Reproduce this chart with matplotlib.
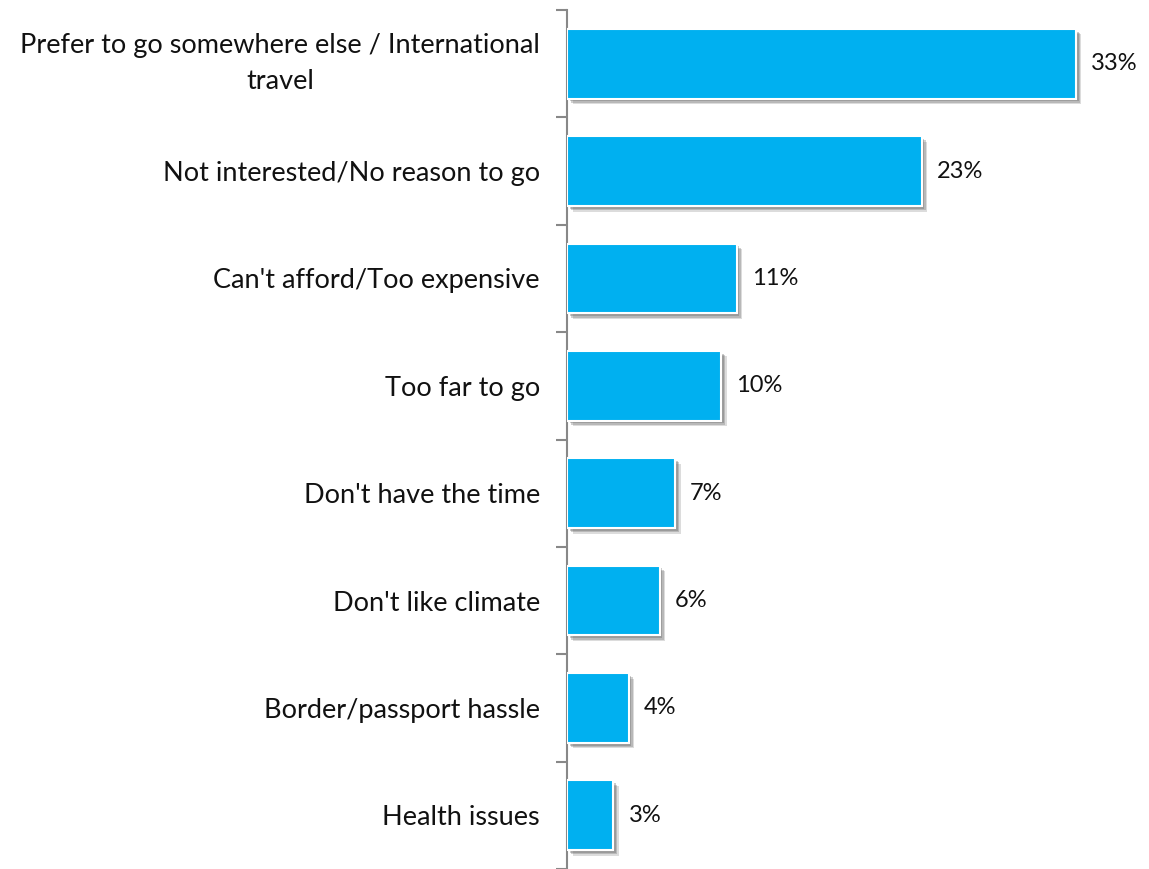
import matplotlib.pyplot as plt
import matplotlib.patheffects as pe

reasons = [
    "Prefer to go somewhere else / International\ntravel",
    "Not interested/No reason to go",
    "Can't afford/Too expensive",
    "Too far to go",
    "Don't have the time",
    "Don't like climate",
    "Border/passport hassle",
    "Health issues",
]
pct = [33, 23, 11, 10, 7, 6, 4, 3]
pct_labels = ["33%", "23%", "11%", "10%", "7%", "6%", "4%", "3%"]

plt.rcParams['font.family'] = ['Lato', 'DejaVu Sans']

fig = plt.figure(figsize=(11.49, 8.69), dpi=100)
ax = fig.add_axes([567 / 1149, 0.0, 1 - 567 / 1149, 859 / 869])

y = list(range(len(reasons)))
# soft-ish drop shadow: a few stacked offsets
shadow = [
    pe.SimplePatchShadow(offset=(4, -4), shadow_rgbFace='#777777', alpha=0.25),
    pe.SimplePatchShadow(offset=(3, -3), shadow_rgbFace='#666666', alpha=0.3),
    pe.SimplePatchShadow(offset=(2, -2), shadow_rgbFace='#555555', alpha=0.3),
    pe.Normal(),
]
bars = ax.barh(y, pct, height=0.65, color='#00B0F0', edgecolor='white', linewidth=1.5, zorder=3)
for b in bars:
    b.set_path_effects(shadow)

for yi, v, lab in zip(y, pct, pct_labels):
    ax.annotate(lab, (v, yi), xytext=(11, 0), textcoords='offset points',
                va='center', ha='left', fontsize=17, color='#111111')

ax.set_ylim(len(reasons) - 0.5, -0.5)
ax.set_xlim(0, 37.74)
ax.set_yticks(y)
ax.set_yticklabels(reasons, fontsize=19.5, color='#111111')
first = ax.get_yticklabels()[0]
first.set_multialignment('center')
first.set_linespacing(1.55)
first.set_va('center')
ax.set_yticks([i - 0.5 for i in range(len(reasons) + 1)], minor=True)
ax.tick_params(axis='y', which='major', length=0, pad=19.5)
ax.tick_params(axis='y', which='minor', length=8, width=1.5, color='#888888')
ax.set_xticks([])
for s in ['top', 'right', 'bottom']:
    ax.spines[s].set_visible(False)
ax.spines['left'].set_color('#888888')
ax.spines['left'].set_linewidth(1.5)

fig.savefig('out.png', dpi=100)
